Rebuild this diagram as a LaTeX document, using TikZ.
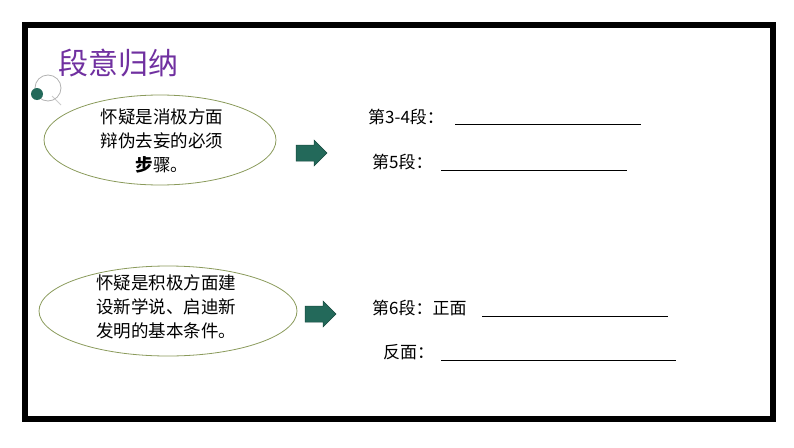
\documentclass[tikz,border=0pt]{standalone}
\usepackage{fontspec}
\setmainfont{Noto Sans CJK SC}
\usetikzlibrary{shapes.geometric}
\definecolor{dgreen}{HTML}{23695A}
\definecolor{ell}{HTML}{8A9A5B}
\definecolor{ttl}{HTML}{7030A0}
\tikzset{
 ov/.style={draw=ell,line width=0.8pt,ellipse},
 txt/.style={font=\fontsize{17.5}{24}\selectfont,align=center},
 lbl/.style={font=\fontsize{17}{18}\selectfont,anchor=west,inner sep=0},
 blank/.style={line width=0.8pt},
 arr/.style={fill=dgreen,draw=dgreen!70!black,line width=0.5pt}
}
\begin{document}
\begin{tikzpicture}[x=1pt,y=-1pt]
\useasboundingbox (0,0) rectangle (794,447);
\draw[line width=6pt] (25,25) rectangle (773,419);
\node[ttl,font=\fontsize{30}{32}\selectfont,anchor=west,inner sep=0] (title) at (58,63) {段意归纳};
\draw[gray!40,line width=1pt] (52,96) -- (61,105);
\node[draw=gray!60,circle,minimum size=26pt,inner sep=0,line width=0.8pt] (ring) at (48,88) {};
\node[fill=dgreen,circle,minimum size=12pt,inner sep=0] (dot) at (37,94) {};
\node[ov,minimum width=232pt,minimum height=90pt] (e1) at (160,140) {};
\node[txt] (t1) at (162,141) {怀疑是消极方面\\辩伪去妄的必须\\\textbf{步}骤。};
\node[ov,minimum width=258pt,minimum height=90pt] (e2) at (168,311) {};
\node[txt] (t2) at (166,307) {怀疑是积极方面建\\设新学说、启迪新\\发明的基本条件。};
\coordinate (a1) at (296,153);
\coordinate (a2) at (305,314);
\foreach \c in {a1,a2}
  \fill[arr] (\c) ++(0,-8) -- ++(18,0) -- ++(0,-5) -- ++(13,13) -- ++(-13,13) -- ++(0,-5) -- ++(-18,0) -- cycle;
\node[lbl] (l1) at (368,117) {第3-4段：};
\draw[blank] (455,124) -- (641,124);
\node[lbl] (l2) at (372,162) {第5段：};
\draw[blank] (441,170) -- (627,170);
\node[lbl] (l3) at (372,308) {第6段：正面};
\draw[blank] (482,316) -- (668,316);
\node[lbl] (l4) at (383,352) {反面：};
\draw[blank] (441,360) -- (676,360);
\end{tikzpicture}
\end{document}
